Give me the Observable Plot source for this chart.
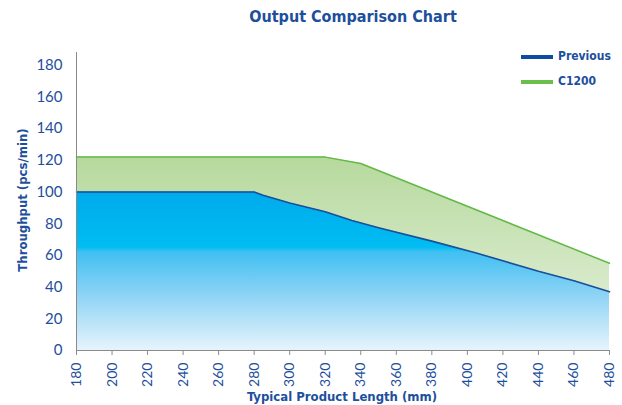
<!DOCTYPE html>
<html><head><meta charset="utf-8">
<script src="https://cdn.jsdelivr.net/npm/d3@7"></script>
<script src="https://cdn.jsdelivr.net/npm/@observablehq/plot@0.6"></script>
<style>
body{margin:0;background:#fff;}
#wrap{position:relative;width:622px;height:405px;color:#1d4f9c;}
.t{position:absolute;font-family:"DejaVu Sans Condensed","DejaVu Sans";font-weight:bold;color:#1d4f9c;white-space:nowrap;}
.sw{position:absolute;height:4px;width:32px;}
</style></head><body><div id="wrap"></div>
<script>
const prevLength = [180, 280, 285, 300, 320, 335, 350, 380, 405, 440, 460, 480];
const prevThroughput = [100, 100, 98, 93, 87.5, 82, 77.5, 69, 61.5, 50, 44, 37];
const c1200Length = [180, 320, 340, 480];
const c1200Throughput = [122, 122, 118, 55];
const xTicks = [180,200,220,240,260,280,300,320,340,360,380,400,420,440,460,480];
const yTicks = [0,20,40,60,80,100,120,140,160,180];
const seriesNames = ["Previous", "C1200"];
const titleText = "Output Comparison Chart";
const xTitle = "Typical Product Length (mm)";
const yTitle = "Throughput (pcs/min)";

const prev = prevLength.map((l,i)=>({len:l, val:prevThroughput[i]}));
const c1200 = c1200Length.map((l,i)=>({len:l, val:c1200Throughput[i]}));

const defs = () => {
  const d = d3.create("svg:defs");
  const gb = d.append("linearGradient").attr("id","gBlue").attr("x1",0).attr("y1",0).attr("x2",0).attr("y2",1);
  gb.append("stop").attr("offset","0").attr("stop-color","#00aaec");
  gb.append("stop").attr("offset","0.35").attr("stop-color","#00bdf2");
  gb.append("stop").attr("offset","0.38").attr("stop-color","#3fc0f2");
  gb.append("stop").attr("offset","0.65").attr("stop-color","#8dd3f5");
  gb.append("stop").attr("offset","1").attr("stop-color","#e6f4fc");
  const gg = d.append("linearGradient").attr("id","gGreen").attr("x1",0).attr("y1",0).attr("x2",0).attr("y2",1);
  gg.append("stop").attr("offset","0").attr("stop-color","#b6d99d");
  gg.append("stop").attr("offset","1").attr("stop-color","#e8f2e0");
  return d.node();
};

const chart = Plot.plot({
  width: 622, height: 405,
  marginLeft: 76, marginRight: 13, marginTop: 52, marginBottom: 55,
  style: {fontFamily: "Lato, 'Open Sans', sans-serif", fontSize: "14px", color: "#1d4f9c", background: "#fff"},
  x: {domain: [180, 480], ticks: xTicks, label: null},
  y: {domain: [0, 188], ticks: yTicks, label: null},
  marks: [
    defs,
    Plot.areaY(c1200, {x:"len", y:"val", fill:"url(#gGreen)"}),
    Plot.areaY(prev, {x:"len", y:"val", fill:"url(#gBlue)"}),
    Plot.lineY(c1200, {x:"len", y:"val", stroke:"#62b946", strokeWidth:1.5}),
    Plot.lineY(prev, {x:"len", y:"val", stroke:"#1b4f9a", strokeWidth:1.6}),
    Plot.ruleX([180], {stroke:"#8a8a8a", strokeWidth:1}),
    Plot.ruleY([0], {stroke:"#8a8a8a", strokeWidth:1}),
    Plot.axisY({ticks: yTicks, tickSize: 0, tickPadding: 14, label: null, fontSize: 15}),
    Plot.axisX({ticks: xTicks, tickSize: 5, tickRotate: -90, tickPadding: 7, label: null, stroke:"#8a8a8a", fontSize: 14})
  ]
});
const wrap = document.getElementById("wrap");
wrap.appendChild(chart);

function addText(txt, css){ const d=document.createElement("div"); d.className="t"; d.textContent=txt; Object.assign(d.style, css); wrap.appendChild(d); return d; }
addText(titleText, {left:"0", width:"706px", textAlign:"center", top:"7px", fontSize:"16px"});
addText(xTitle, {left:"0", width:"684px", textAlign:"center", top:"389px", fontSize:"13px"});
addText(yTitle, {left:"22px", top:"200px", fontSize:"13px", transform:"translate(-50%,-50%) rotate(-90deg)"});
const sw1=document.createElement("div"); sw1.className="sw"; Object.assign(sw1.style,{left:"521px",top:"55px",background:"#0d4c9e"}); wrap.appendChild(sw1);
const sw2=document.createElement("div"); sw2.className="sw"; Object.assign(sw2.style,{left:"521px",top:"80px",background:"#6abf4b"}); wrap.appendChild(sw2);
addText(seriesNames[0], {left:"558px", top:"49px", fontSize:"12px"});
addText(seriesNames[1], {left:"558px", top:"74px", fontSize:"12px"});
</script></body></html>
